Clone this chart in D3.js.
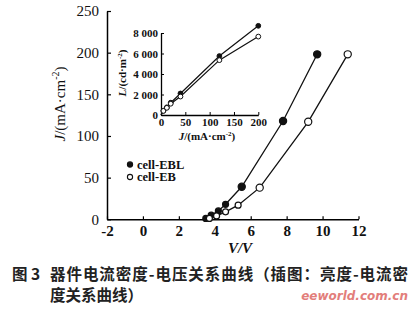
<!DOCTYPE html>
<html>
<head>
<meta charset="utf-8">
<script src="https://cdn.jsdelivr.net/npm/d3@7"></script>
<style>
  html, body { margin: 0; padding: 0; background: #fff; }
  svg { display: block; }
  .tk text { font-family: "Liberation Serif", "Times New Roman", serif; }
</style>
</head>
<body>
<div id="chart"></div>
<script>
// 主图：电流密度-电压
const eblV = [3.5, 3.8, 4.2, 4.6, 5.5, 7.8, 9.7];
const eblJ = [1, 5, 10, 18, 39, 118, 198];
const ebV = [3.7, 4.1, 4.6, 5.3, 6.5, 9.2, 11.4];
const ebJ = [1, 4, 9, 17, 38, 117, 198];
const mainXTicks = [-2, 0, 2, 4, 6, 8, 10, 12];
const mainYTicks = [0, 50, 100, 150, 200, 250];

// 插图：亮度-电流密度
const insetJ = [0, 5, 12, 20, 40, 120, 200];
const insetEblL = [0, 420, 750, 1200, 2100, 5750, 8700];
const insetEbL = [0, 400, 700, 1100, 1800, 5350, 7650];
const insetXTicks = [0, 50, 100, 150, 200];
const insetYTicks = [0, 2000, 4000, 6000, 8000];

const series = [
    { name: "cell-EBL", filled: true },
    { name: "cell-EB", filled: false }
];

const width = 412, height = 309;

const svg = d3.select("#chart").append("svg")
    .attr("width", width)
    .attr("height", height);

svg.append("rect").attr("width", width).attr("height", height).attr("fill", "#fff");

// ---------- 主图 ----------
const x = d3.scaleLinear().domain([-2, 12]).range([107, 358.5]);
const y = d3.scaleLinear().domain([0, 250]).range([219.3, 11]);

const gx = svg.append("g").attr("class", "tk")
    .attr("transform", `translate(0,${y(0)})`)
    .call(d3.axisBottom(x).tickValues(mainXTicks).tickSize(-3).tickPadding(6).tickSizeOuter(0)
        .tickFormat(d => String(d)));
gx.select(".domain").attr("stroke-width", 1.5);
gx.selectAll(".tick line").attr("stroke-width", 1.2);
gx.selectAll(".tick text").attr("font-size", 15).attr("font-weight", "bold").attr("fill", "#111");

const gy = svg.append("g").attr("class", "tk")
    .attr("transform", `translate(${x(-2)},0)`)
    .call(d3.axisLeft(y).tickValues(mainYTicks).tickSize(-4).tickPadding(8).tickSizeOuter(0));
gy.select(".domain").attr("stroke-width", 1.5);
gy.selectAll(".tick line").attr("stroke-width", 1.2);
gy.selectAll(".tick text").attr("font-size", 15).attr("fill", "#111");

const line = d3.line().x(d => x(d[0])).y(d => y(d[1]));

const mainData = [d3.zip(eblV, eblJ), d3.zip(ebV, ebJ)];

mainData.forEach((pts, i) => {
    svg.append("path")
        .datum(pts)
        .attr("d", line)
        .attr("fill", "none")
        .attr("stroke", "#111")
        .attr("stroke-width", 1.3);
    svg.selectAll(null)
        .data(pts)
        .join("circle")
        .attr("cx", d => x(d[0]))
        .attr("cy", d => y(d[1]))
        .attr("r", d => d[1] > 30 ? 3.6 : 3)
        .attr("fill", series[i].filled ? "#111" : "#fff")
        .attr("stroke", "#111")
        .attr("stroke-width", 1.2);
});

// 坐标轴标题
svg.append("text")
    .attr("transform", `translate(65,104) rotate(-90)`)
    .attr("text-anchor", "middle")
    .attr("font-family", "Liberation Serif, serif")
    .attr("font-size", 15)
    .attr("fill", "#111")
    .html('<tspan font-style="italic">J</tspan>/(mA·cm<tspan dy="-6" font-size="10">-2</tspan><tspan dy="6">)</tspan>');

svg.append("text")
    .attr("x", 240).attr("y", 253)
    .attr("text-anchor", "middle")
    .attr("font-family", "Liberation Serif, serif")
    .attr("font-size", 15)
    .attr("font-weight", "bold")
    .attr("font-style", "italic")
    .attr("fill", "#111")
    .text("V/V");

// 图例
const legend = svg.append("g");
series.forEach((s, i) => {
    const ly = 164.5 + i * 12.5;
    legend.append("circle")
        .attr("cx", 130).attr("cy", ly)
        .attr("r", 2.6)
        .attr("fill", s.filled ? "#111" : "#fff")
        .attr("stroke", "#111")
        .attr("stroke-width", 1.1);
    legend.append("text")
        .attr("x", 137).attr("y", ly + 4.2)
        .attr("font-family", "Liberation Serif, serif")
        .attr("font-size", 12.5)
        .attr("font-weight", "bold")
        .attr("fill", "#111")
        .text(s.name);
});

// ---------- 插图 ----------
const ix = d3.scaleLinear().domain([0, 200]).range([161, 258.3]);
const iy = d3.scaleLinear().domain([0, 8000]).range([115, 33]);

const igx = svg.append("g").attr("class", "tk")
    .attr("transform", `translate(0,${iy(0)})`)
    .call(d3.axisBottom(ix).tickValues(insetXTicks).tickSize(-3).tickPadding(3).tickSizeOuter(0));
igx.select(".domain").attr("stroke-width", 1.3);
igx.selectAll(".tick text").attr("font-size", 11).attr("font-weight", "bold").attr("fill", "#111");

const igy = svg.append("g").attr("class", "tk")
    .attr("transform", `translate(${ix(0)},0)`)
    .call(d3.axisLeft(iy).tickValues(insetYTicks).tickSize(-3).tickPadding(3).tickSizeOuter(0)
        .tickFormat(d => d === 0 ? "0" : d3.format(",")(d).replace(",", " ")));
igy.select(".domain").attr("stroke-width", 1.3);
igy.selectAll(".tick text").attr("font-size", 11).attr("font-weight", "bold").attr("fill", "#111");

const iline = d3.line().x(d => ix(d[0])).y(d => iy(d[1]));
const insetData = [d3.zip(insetJ, insetEblL), d3.zip(insetJ, insetEbL)];

insetData.forEach((pts, i) => {
    svg.append("path")
        .datum(pts)
        .attr("d", iline)
        .attr("fill", "none")
        .attr("stroke", "#111")
        .attr("stroke-width", 1.2);
    svg.selectAll(null)
        .data(pts.slice(1))
        .join("circle")
        .attr("cx", d => ix(d[0]))
        .attr("cy", d => iy(d[1]))
        .attr("r", 2.4)
        .attr("fill", series[i].filled ? "#111" : "#fff")
        .attr("stroke", "#111")
        .attr("stroke-width", 1);
});

svg.append("text")
    .attr("transform", `translate(126,73) rotate(-90)`)
    .attr("text-anchor", "middle")
    .attr("font-family", "Liberation Serif, serif")
    .attr("font-size", 11)
    .attr("font-weight", "bold")
    .attr("fill", "#111")
    .html('<tspan font-style="italic">L</tspan>/(cd·m<tspan dy="-4" font-size="7">-2</tspan><tspan dy="4">)</tspan>');

svg.append("text")
    .attr("x", 207).attr("y", 140)
    .attr("text-anchor", "middle")
    .attr("font-family", "Liberation Serif, serif")
    .attr("font-size", 11)
    .attr("font-weight", "bold")
    .attr("fill", "#111")
    .html('<tspan font-style="italic">J</tspan>/(mA·cm<tspan dy="-4" font-size="7">-2</tspan><tspan dy="4">)</tspan>');

// ---------- 图题 ----------
const cap = svg.append("g")
    .attr("font-family", "Noto Sans CJK SC, sans-serif")
    .attr("font-weight", "bold")
    .attr("font-size", 15.5)
    .attr("fill", "#222");
cap.append("text").attr("x", 12).attr("y", 280).text("图 3");
cap.append("text").attr("x", 50).attr("y", 280).attr("textLength", 358).text("器件电流密度-电压关系曲线（插图：亮度-电流密");
cap.append("text").attr("x", 50).attr("y", 301).text("度关系曲线）");

// 水印
svg.append("text")
    .attr("x", 408).attr("y", 300)
    .attr("text-anchor", "end")
    .attr("font-family", "DejaVu Sans, sans-serif")
    .attr("font-size", 12)
    .attr("font-weight", "bold")
    .attr("font-style", "italic")
    .attr("fill", "#d9534f")
    .attr("opacity", 0.75)
    .text("eeworld.com.cn");
</script>
</body>
</html>
